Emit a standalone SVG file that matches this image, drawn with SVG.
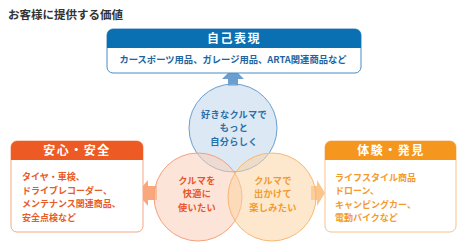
<svg xmlns="http://www.w3.org/2000/svg" width="467" height="247" viewBox="0 0 467 247">
<style>
text{font-family:"Noto Sans CJK JP","Noto Sans",sans-serif;font-weight:bold}
.ttl{font-size:11.5px;fill:#333}
.hd{font-size:12px;fill:#fff;text-anchor:middle;letter-spacing:1.5px}
.sub{font-size:9.3px;fill:#1d64a0;text-anchor:middle}
.lt{font-size:9px;fill:#e85a28}
.rt{font-size:9px;fill:#f39a2c}
.ct{font-size:9.2px;text-anchor:middle;letter-spacing:0.3px}
</style>
<rect width="467" height="247" fill="#fff"/>
<text class="ttl" x="8" y="19">お客様に提供する価値</text>

<g id="connectors">
<polygon points="233,68 244,79 238,79 238,86 228,86 228,79 222,79" fill="#6a9fd0"/>
<polygon points="137,193 148,180 148,186 157,186 157,200 148,200 148,206" fill="#f9a77d"/>
<polygon points="311,186 317,186 317,180 325,193 317,206 317,200 311,200" fill="#fbc58c"/>
</g>

<g id="self-expression">
<rect x="107" y="29" width="254" height="44" rx="6" fill="#fff" stroke="#4a8cc4" stroke-width="1"/>
<path d="M107,48 V35 a6,6 0 0 1 6,-6 H355 a6,6 0 0 1 6,6 V48 Z" fill="#0a70b2"/>
<text class="hd" x="234" y="43">自己表現</text>
<text class="sub" x="233" y="63">カースポーツ用品、ガレージ用品、ARTA関連商品など</text>
</g>

<g id="safety">
<rect x="11" y="141" width="132" height="91" rx="6" fill="#fff" stroke="#f5a882" stroke-width="1"/>
<path d="M11,160 V147 a6,6 0 0 1 6,-6 H137 a6,6 0 0 1 6,6 V160 Z" fill="#ee5a24"/>
<text class="hd" x="77" y="155">安心・安全</text>
<text class="lt" x="22" y="180">タイヤ・車検、</text>
<text class="lt" x="22" y="194">ドライブレコーダー、</text>
<text class="lt" x="22" y="207">メンテナンス関連商品、</text>
<text class="lt" x="22" y="221">安全点検など</text>
</g>

<g id="experience">
<rect x="325" y="141" width="131" height="91" rx="6" fill="#fff" stroke="#f8c384" stroke-width="1"/>
<path d="M325,160 V147 a6,6 0 0 1 6,-6 H450 a6,6 0 0 1 6,6 V160 Z" fill="#f5961e"/>
<text class="hd" x="391" y="155">体験・発見</text>
<text class="rt" x="335" y="181">ライフスタイル商品</text>
<text class="rt" x="335" y="194">ドローン、</text>
<text class="rt" x="335" y="208">キャンピングカー、</text>
<text class="rt" x="335" y="221">電動バイクなど</text>
</g>

<g id="circle-self">
<circle cx="233" cy="128" r="44" fill="#c4d8ec" fill-opacity="0.6" stroke="#6a9fd0" stroke-width="1"/>
</g>
<g id="circle-comfort">
<circle cx="198" cy="197" r="44" fill="#fbcdb8" fill-opacity="0.55" stroke="#f4a07c" stroke-width="1"/>
</g>
<g id="circle-fun">
<circle cx="272" cy="197" r="44" fill="#fcd3a4" fill-opacity="0.55" stroke="#f8b870" stroke-width="1"/>
</g>

<g id="labels">
<text class="ct" fill="#2a6ea8"><tspan x="234" y="117.5">好きなクルマで</tspan><tspan x="234" y="131">もっと</tspan><tspan x="234" y="144.5">自分らしく</tspan></text>
<text class="ct" fill="#e8562a"><tspan x="197" y="183.5">クルマを</tspan><tspan x="197" y="197">快適に</tspan><tspan x="197" y="210.5">使いたい</tspan></text>
<text class="ct" fill="#f29a2e"><tspan x="273" y="183.5">クルマで</tspan><tspan x="273" y="197">出かけて</tspan><tspan x="273" y="210.5">楽しみたい</tspan></text>
</g>
</svg>
